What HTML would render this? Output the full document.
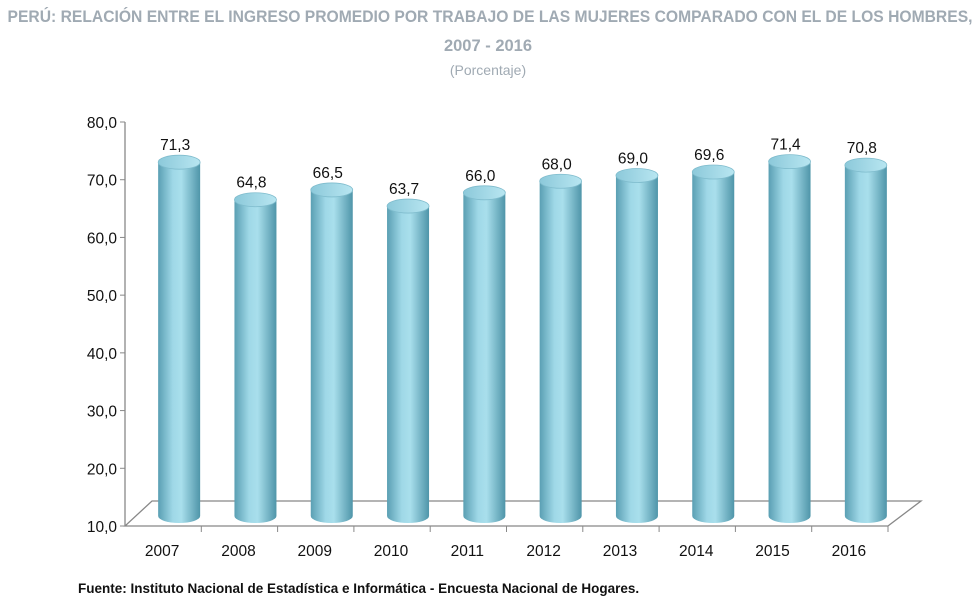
<!DOCTYPE html>
<html><head><meta charset="utf-8"><style>
body{margin:0;background:#fff;width:980px;height:610px;overflow:hidden;font-family:"Liberation Sans",sans-serif}
svg{display:block}
</style></head><body>
<svg width="980" height="610">
<defs>
<linearGradient id="cyl" x1="0" x2="1" y1="0" y2="0">
<stop offset="0" stop-color="#5a9fb3"/><stop offset="0.35" stop-color="#9fd8e7"/><stop offset="0.55" stop-color="#a9dfec"/><stop offset="1" stop-color="#4f95a9"/>
</linearGradient>
<linearGradient id="topg" x1="0" x2="1"><stop offset="0" stop-color="#8cc9da"/><stop offset="1" stop-color="#b8e6f1"/></linearGradient>
</defs>
<text x="490" y="22" text-anchor="middle" font-size="16.5" font-weight="bold" fill="#a0aab3" textLength="965" lengthAdjust="spacingAndGlyphs">PERÚ: RELACIÓN ENTRE EL INGRESO PROMEDIO POR TRABAJO DE LAS MUJERES COMPARADO CON EL DE LOS HOMBRES,</text>
<text x="488" y="51" text-anchor="middle" font-size="16.5" font-weight="bold" fill="#a0aab3">2007 - 2016</text>
<text x="488" y="75" text-anchor="middle" font-size="14" fill="#a0aab3">(Porcentaje)</text>
<g id="axes"></g>
<g id="bars"></g>
<text x="78" y="593" font-size="13.5" font-weight="bold" fill="#111">Fuente: Instituto Nacional de Estadística e Informática - Encuesta Nacional de Hogares.</text>
</svg>
<script>
const categories=["2007","2008","2009","2010","2011","2012","2013","2014","2015","2016"];
const values=[71.3,64.8,66.5,63.7,66.0,68.0,69.0,69.6,71.4,70.8];
const ticks=[10,20,30,40,50,60,70,80];
const NS="http://www.w3.org/2000/svg";
const x0=125,step=76.3,yMin=10,yMax=80,yB=526,yT=122;
const y=v=>yB-(v-yMin)/(yMax-yMin)*(yB-yT);
const xc=i=>x0+step*(i+0.5);
function mk(t,a,p){const e=document.createElementNS(NS,t);for(const k in a)e.setAttribute(k,a[k]);p.appendChild(e);return e;}
const ax=document.getElementById('axes'),bg=document.getElementById('bars');
const floor=mk('polygon',{points:`${x0},${yB} ${x0+step*10},${yB} ${x0+step*10+33},${yB-25} ${x0+27},${yB-25}`,fill:'none',stroke:'#888','stroke-width':1.3},ax);


const yl=mk('line',{x1:x0,y1:yT,x2:x0,y2:yB,stroke:'#888','stroke-width':1.3},ax);


ticks.forEach(t=>{
 mk('line',{x1:x0-5,x2:x0,y1:y(t),y2:y(t),stroke:'#888'},ax);
 const tx=mk('text',{x:x0-8,y:y(t)+6,'text-anchor':'end','font-size':15.5,fill:'#111'},ax);
 tx.textContent=t.toFixed(1).replace('.',',');
 
 
});
categories.forEach((c,i)=>{
 mk('line',{x1:x0+step*(i+1),x2:x0+step*(i+1),y1:yB,y2:yB+6,stroke:'#888'},ax);
 const tx=mk('text',{x:xc(i)-1,y:yB+30,'text-anchor':'middle','font-size':15.5,fill:'#111'},ax);
 tx.textContent=c;
 
 
});
values.forEach((v,i)=>{
 const cx=xc(i)+16,w=21,ry=7,top=y(v)-10,bot=yB-10;
 const g=mk('g',{},bg);
 
 
 mk('path',{d:`M${cx-w},${top} L${cx-w},${bot} A${w},${ry} 0 0 0 ${cx+w},${bot} L${cx+w},${top} Z`,fill:'url(#cyl)'},g);
 mk('ellipse',{cx:cx,cy:top,rx:w,ry:ry,fill:'url(#topg)',stroke:'#7fbccd','stroke-width':0.8},g);
 const tx=mk('text',{x:cx-4,y:top-12,'text-anchor':'middle','font-size':15.5,fill:'#111'},g);
 tx.textContent=v.toFixed(1).replace('.',',');
 
 
});
</script>
</body></html>
